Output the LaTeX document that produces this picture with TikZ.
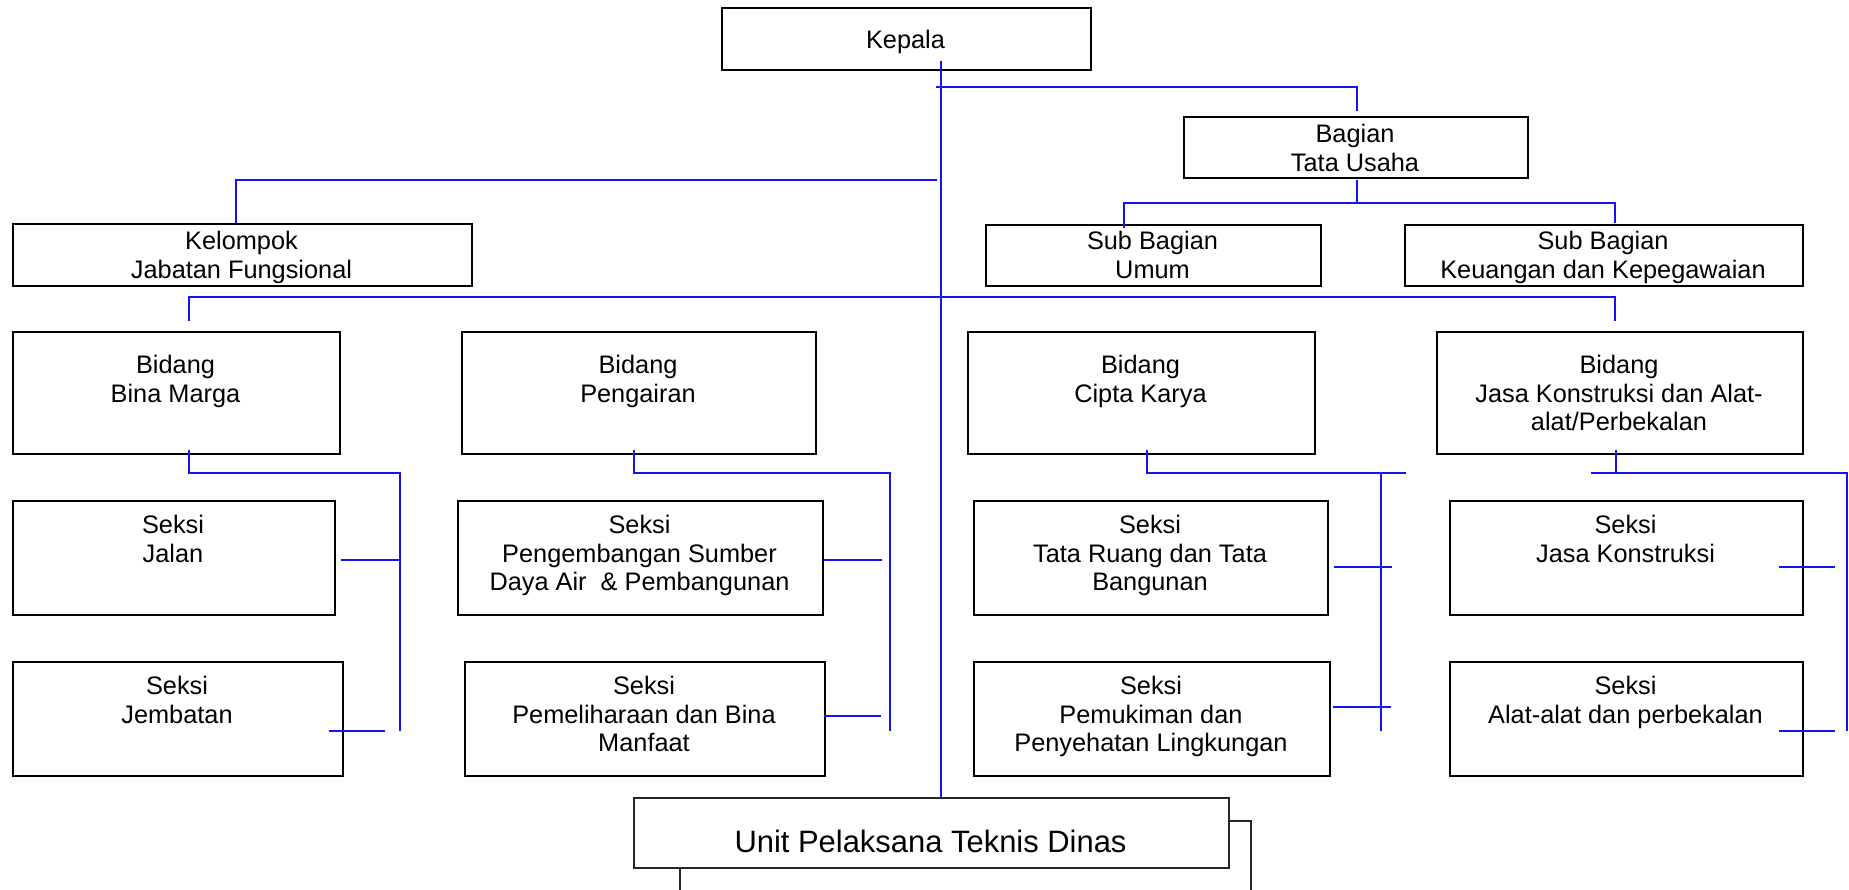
\documentclass[tikz,border=0pt]{standalone}
\usepackage{fontspec}
\setmainfont{Liberation Sans}
\definecolor{lineblue}{RGB}{20,20,240}
\begin{document}
\begin{tikzpicture}[x=0.75pt,y=-0.75pt,
  box/.style={draw=black,line width=1.5pt,fill=white,inner sep=0pt},
  lbl/.style={anchor=north,inner sep=0pt,align=center,font=\fontsize{19}{21.3}\selectfont},
  conn/.style={draw=lineblue,line width=1pt}]
\useasboundingbox (0,0) rectangle (1849,889);
\newcommand\orgbox[5]{\node[box,minimum width={(#4-#2)*0.75pt},minimum height={(#5-#3)*0.75pt},anchor=north west] (#1) at (#2,#3) {};}
% boxes
\orgbox{kepala}{721}{7}{1090}{69}
\orgbox{bagian}{1183}{116}{1527}{177}
\orgbox{kelompok}{12}{223}{471}{285}
\orgbox{subumum}{985}{224}{1320}{285}
\orgbox{subkeu}{1404}{224}{1802}{285}
\orgbox{binamarga}{12}{331}{339}{453}
\orgbox{pengairan}{461}{331}{815}{453}
\orgbox{cipta}{967}{331}{1314}{453}
\orgbox{jasa}{1436}{331}{1802}{453}
\orgbox{jalan}{12}{500}{334}{614}
\orgbox{pengembangan}{457}{500}{822}{614}
\orgbox{tataruang}{973}{500}{1327}{614}
\orgbox{jasakons}{1449}{500}{1802}{614}
\orgbox{jembatan}{12}{661}{342}{775}
\orgbox{pemeliharaan}{464}{661}{824}{775}
\orgbox{pemukiman}{973}{661}{1329}{775}
\orgbox{alat}{1449}{661}{1802}{775}
% unit with back box
\coordinate (u1) at (680,895); \coordinate (u2) at (680,821); \coordinate (u3) at (1251,821); \coordinate (u4) at (1251,895);
\draw[black!85,line width=1.2pt] (u1) -- (u2) -- (u3) -- (u4);
\node[draw=black!85,line width=1.2pt,fill=white,inner sep=0pt,minimum width={595*0.75pt},minimum height={70*0.75pt},anchor=north west] (unit) at (633,797) {};
% connectors (on top of boxes)
\coordinate (m1) at (941,61); \coordinate (m2) at (941,797);
\draw[conn] (m1) -- (m2);
\coordinate (b1) at (936,87); \coordinate (b2) at (1357,87); \coordinate (b3) at (1357,111);
\draw[conn] (b1) -- (b2) -- (b3);
\coordinate (s1) at (1357,180); \coordinate (s2) at (1357,203);
\draw[conn] (s1) -- (s2);
\coordinate (s3) at (1124,228); \coordinate (s4) at (1124,203); \coordinate (s5) at (1615,203); \coordinate (s6) at (1615,223);
\draw[conn] (s3) -- (s4) -- (s5) -- (s6);
\coordinate (k1) at (937,180); \coordinate (k2) at (236,180); \coordinate (k3) at (236,223);
\draw[conn] (k1) -- (k2) -- (k3);
\coordinate (d1) at (189,321); \coordinate (d2) at (189,297); \coordinate (d3) at (1615,297); \coordinate (d4) at (1615,321);
\draw[conn] (d1) -- (d2) -- (d3) -- (d4);
% Bina Marga
\coordinate (bm1) at (189,450); \coordinate (bm2) at (189,473); \coordinate (bm3) at (400,473); \coordinate (bm4) at (400,731);
\draw[conn] (bm1) -- (bm2) -- (bm3) -- (bm4);
\coordinate (bt1) at (341,560); \coordinate (bt2) at (400,560);
\coordinate (bt3) at (329,731); \coordinate (bt4) at (385,731);
\draw[conn] (bt1) -- (bt2); \draw[conn] (bt3) -- (bt4);
% Pengairan
\coordinate (pa1) at (634,450); \coordinate (pa2) at (634,473); \coordinate (pa3) at (890,473); \coordinate (pa4) at (890,731);
\draw[conn] (pa1) -- (pa2) -- (pa3) -- (pa4);
\coordinate (pt1) at (824,560); \coordinate (pt2) at (882,560);
\coordinate (pt3) at (824,716); \coordinate (pt4) at (881,716);
\draw[conn] (pt1) -- (pt2); \draw[conn] (pt3) -- (pt4);
% Cipta Karya
\coordinate (ck1) at (1147,450); \coordinate (ck2) at (1147,473); \coordinate (ck3) at (1406,473);
\coordinate (ck4) at (1381,473); \coordinate (ck5) at (1381,731);
\draw[conn] (ck1) -- (ck2) -- (ck3); \draw[conn] (ck4) -- (ck5);
\coordinate (ct1) at (1334,567); \coordinate (ct2) at (1392,567);
\coordinate (ct3) at (1333,707); \coordinate (ct4) at (1391,707);
\draw[conn] (ct1) -- (ct2); \draw[conn] (ct3) -- (ct4);
% Jasa
\coordinate (ja1) at (1616,450); \coordinate (ja2) at (1616,473);
\coordinate (ja3) at (1591,473); \coordinate (ja4) at (1847,473); \coordinate (ja5) at (1847,731);
\draw[conn] (ja1) -- (ja2); \draw[conn] (ja3) -- (ja4) -- (ja5);
\coordinate (jt1) at (1779,567); \coordinate (jt2) at (1835,567);
\coordinate (jt3) at (1779,731); \coordinate (jt4) at (1835,731);
\draw[conn] (jt1) -- (jt2); \draw[conn] (jt3) -- (jt4);
% texts
\node[lbl] (tkepala) at (905.5,30) {Kepala};
\node[lbl] (tbagian) at (1355,124) {Bagian\\Tata Usaha};
\node[lbl] (tkelompok) at (241.5,231) {Kelompok\\Jabatan Fungsional};
\node[lbl] (tsubumum) at (1152.5,231) {Sub Bagian\\Umum};
\node[lbl] (tsubkeu) at (1603,231) {Sub Bagian\\Keuangan dan Kepegawaian};
\node[lbl] (tbinamarga) at (175.5,355) {Bidang\\Bina Marga};
\node[lbl] (tpengairan) at (638,355) {Bidang\\Pengairan};
\node[lbl] (tcipta) at (1140.5,355) {Bidang\\Cipta Karya};
\node[lbl] (tjasa) at (1619,355) {Bidang\\Jasa Konstruksi dan Alat-\\alat/Perbekalan};
\node[lbl] (tjalan) at (173,515) {Seksi\\Jalan};
\node[lbl] (tpengembangan) at (639.5,515) {Seksi\\Pengembangan Sumber\\Daya Air~~\& Pembangunan};
\node[lbl] (ttataruang) at (1150,515) {Seksi\\Tata Ruang dan Tata\\Bangunan};
\node[lbl] (tjasakons) at (1625.5,515) {Seksi\\Jasa Konstruksi};
\node[lbl] (tjembatan) at (177,676) {Seksi\\Jembatan};
\node[lbl] (tpemeliharaan) at (644,676) {Seksi\\Pemeliharaan dan Bina\\Manfaat};
\node[lbl] (tpemukiman) at (1151,676) {Seksi\\Pemukiman dan\\Penyehatan Lingkungan};
\node[lbl] (talat) at (1625.5,676) {Seksi\\Alat-alat dan perbekalan};
\node[anchor=base,inner sep=0pt,font=\fontsize{23.2}{26}\selectfont] (tunit) at (930.5,852) {Unit Pelaksana Teknis Dinas};
\end{tikzpicture}
\end{document}
